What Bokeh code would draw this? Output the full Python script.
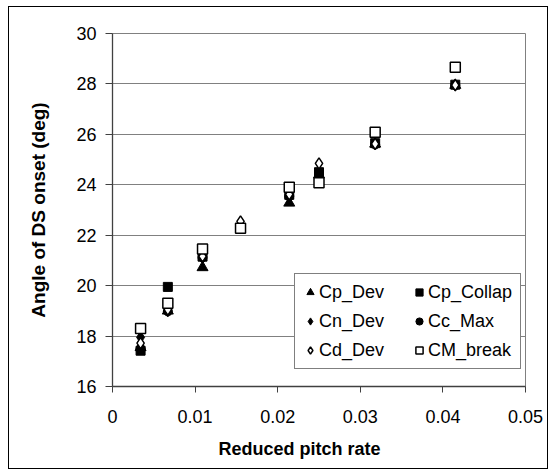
from bokeh.plotting import figure
from bokeh.models import (ColumnDataSource, Legend, LegendItem, FixedTicker,
                          Range1d, Title, InlineStyleSheet)
from bokeh.embed import file_html
from bokeh.resources import INLINE

# ---- data ----
x_pts = [0.0034, 0.0067, 0.0109, 0.0214, 0.0250, 0.0318, 0.0415]
cp_dev = [17.55, 19.0, 20.72, 23.28, 24.4, 25.62, 27.95]
cp_collap = [17.42, 19.95, 21.15, 23.6, 24.5, 25.65, 27.97]
cn_dev = [17.95, 19.0, 21.12, 23.55, 24.45, 25.62, 27.95]
cc_max = [17.5, 18.98, 21.12, 23.55, 24.42, 25.6, 27.95]

x_cd = [0.0034, 0.0067, 0.0109, 0.0155, 0.0214, 0.0250, 0.0318, 0.0415]
cd_dev = [17.72, 19.05, 21.16, 22.55, 23.62, 24.85, 25.62, 27.95]
cm_break = [18.3, 19.3, 21.45, 22.28, 23.9, 24.08, 26.08, 28.66]

y_ticks = [16, 18, 20, 22, 24, 26, 28, 30]
x_ticks = [0, 0.01, 0.02, 0.03, 0.04, 0.05]
x_tick_labels = ["0", "0.01", "0.02", "0.03", "0.04", "0.05"]

FONT = "Liberation Sans"

p = figure(width=553, height=473, output_backend="svg", toolbar_location=None,
           x_range=Range1d(0, 0.05), y_range=Range1d(16, 30),
           min_border_left=112, min_border_right=28, min_border_top=33,
           min_border_bottom=87)
p.background_fill_color = "white"
p.border_fill_color = "white"
p.outline_line_color = "#808080"
p.outline_line_width = 1

p.xgrid.visible = False
p.ygrid.ticker = FixedTicker(ticks=y_ticks)
p.ygrid.grid_line_color = "#808080"
p.ygrid.grid_line_width = 1

p.xaxis.ticker = FixedTicker(ticks=x_ticks)
p.xaxis.major_label_overrides = {t: l for t, l in zip(x_ticks, x_tick_labels)}
p.yaxis.ticker = FixedTicker(ticks=y_ticks)

for ax in (p.xaxis, p.yaxis):
    ax.minor_tick_line_color = None
    ax.major_tick_in = 0
    ax.axis_line_color = "#404040"
    ax.major_tick_line_color = "#404040"
    ax.axis_line_width = 1.3
    ax.major_label_text_font = FONT
    ax.major_label_text_font_size = "18px"
    ax.major_label_text_color = "black"
    ax.axis_label_text_font = FONT
    ax.axis_label_text_font_style = "bold"
    ax.axis_label_text_font_size = "19px"
    ax.axis_label_text_color = "black"

p.xaxis.major_tick_out = 6
p.yaxis.major_tick_out = 7
p.xaxis.major_label_standoff = 17
p.yaxis.major_label_standoff = 9
p.yaxis.axis_label = "Angle of DS onset (deg)"
p.yaxis.axis_label_standoff = 24

# x-axis title, centred on the chart area rather than on the plot frame
p.add_layout(Title(text="Reduced pitch rate", align="left", offset=106,
                   text_font=FONT, text_font_style="bold",
                   text_font_size="18px", text_color="black",
                   standoff=22), "below")

s_main = ColumnDataSource(dict(x=x_pts, cp_dev=cp_dev, cp_collap=cp_collap,
                               cn_dev=cn_dev, cc_max=cc_max))
s_cd = ColumnDataSource(dict(x=x_cd, cd_dev=cd_dev, cm_break=cm_break))

r1 = p.scatter("x", "cp_dev", source=s_main, marker="triangle", size=11,
               fill_color="black", line_color="black")
r2 = p.scatter("x", "cp_collap", source=s_main, marker="square", size=9,
               fill_color="black", line_color="black")
r3 = p.scatter("x", "cn_dev", source=s_main, marker="diamond", size=12,
               fill_color="black", line_color="black")
r4 = p.scatter("x", "cc_max", source=s_main, marker="circle", size=9,
               fill_color="black", line_color="black")
r5 = p.scatter("x", "cd_dev", source=s_cd, marker="diamond", size=11,
               fill_color="white", line_color="black", line_width=1.5)
r6 = p.scatter("x", "cm_break", source=s_cd, marker="square", size=10,
               fill_color="white", line_color="black", line_width=1.5)

items = [LegendItem(label="Cp_Dev", renderers=[r1]),
         LegendItem(label="Cn_Dev", renderers=[r3]),
         LegendItem(label="Cd_Dev", renderers=[r5]),
         LegendItem(label="Cp_Collap", renderers=[r2]),
         LegendItem(label="Cc_Max", renderers=[r4]),
         LegendItem(label="CM_break", renderers=[r6])]
legend = Legend(items=items, location=(182, 17), ncols=2,
                label_text_font=FONT, label_text_font_size="18px",
                label_text_color="black",
                glyph_width=18, glyph_height=24, label_height=24,
                label_standoff=0, label_width=86, spacing=5, padding=6,
                border_line_color="black", border_line_width=1,
                background_fill_color="white", background_fill_alpha=1)
p.add_layout(legend, "center")

# outer chart-area border
p.stylesheets = [InlineStyleSheet(css=""":host::after {
  content: ""; position: absolute; left: 8px; top: 6px;
  width: 538px; height: 461px; border: 1px solid black;
  pointer-events: none; z-index: 100; }""")]

open("out.html", "w").write(file_html(p, INLINE))
